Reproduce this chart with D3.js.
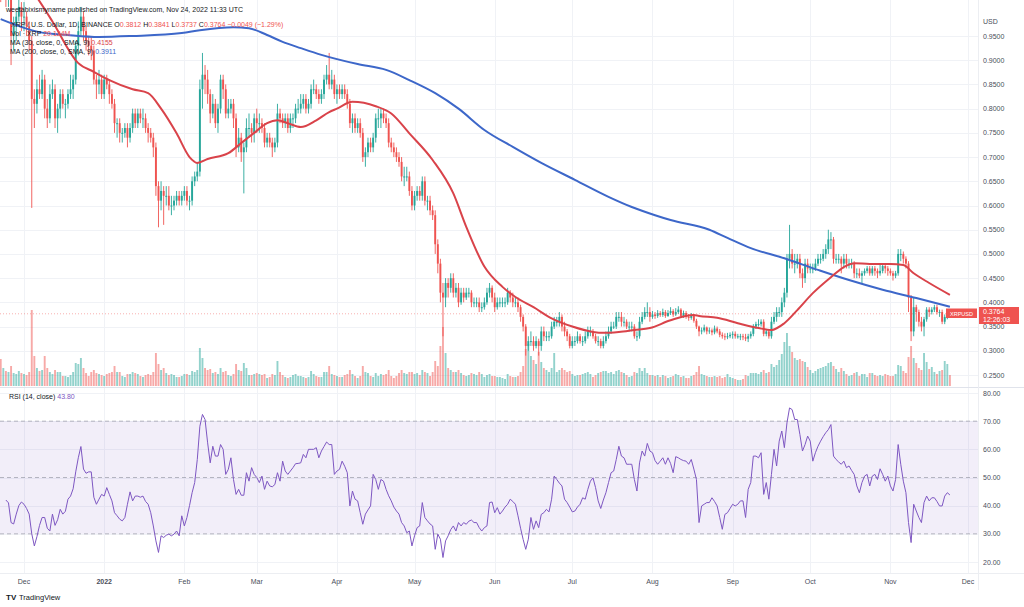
<!DOCTYPE html>
<html><head><meta charset="utf-8">
<script src="https://cdn.jsdelivr.net/npm/d3@7"></script>
<style>
html,body{margin:0;padding:0;background:#fff;}
svg{display:block;font-family:"Liberation Sans",Arial,sans-serif;}
</style></head><body>
<svg id="c" width="1024" height="607"></svg>
<script>
// ---------- DATA (daily XRP/USD candles, 2021-11-22 .. 2022-11-24) ----------
const firstOpen = 1.06;
const closeP = [
1.04,1.08,1.04,1.05,0.95,0.97,0.99,1.01,0.99,
0.99,0.97,0.94,0.82,0.81,0.84,0.83,0.86,0.80,0.78,0.83,0.84,0.78,0.80,0.83,0.81,0.81,0.83,0.84,0.86,0.93,0.96,0.99,0.96,0.94,0.93,0.92,0.86,0.85,0.86,0.83,
0.86,0.85,0.83,0.81,0.77,0.77,0.75,0.75,0.76,0.74,0.76,0.79,0.77,0.79,0.78,0.78,0.76,0.75,0.74,0.72,0.64,0.61,0.63,0.62,0.62,0.60,0.60,0.61,0.62,0.61,0.62,
0.63,0.61,0.61,0.65,0.66,0.67,0.84,0.87,0.86,0.83,0.79,0.81,0.77,0.80,0.86,0.84,0.79,0.80,0.81,0.78,0.72,0.74,0.71,0.72,0.76,0.76,0.75,0.78,
0.77,0.77,0.76,0.73,0.74,0.73,0.72,0.73,0.79,0.78,0.77,0.78,0.76,0.78,0.78,0.80,0.80,0.81,0.82,0.80,0.81,0.84,0.84,0.83,0.82,0.83,0.86,0.87,0.85,0.86,0.83,
0.84,0.83,0.84,0.83,0.81,0.77,0.78,0.76,0.77,0.75,0.70,0.71,0.73,0.72,0.74,0.78,0.78,0.79,0.78,0.77,0.73,0.72,0.71,0.70,0.69,0.66,0.66,0.66,0.63,0.60,
0.62,0.63,0.62,0.65,0.61,0.61,0.59,0.58,0.52,0.48,0.42,0.41,0.44,0.43,0.45,0.42,0.43,0.40,0.42,0.41,0.42,0.42,0.40,0.40,0.40,0.39,0.39,0.40,0.42,0.43,0.41,
0.39,0.40,0.40,0.40,0.40,0.42,0.41,0.40,0.40,0.39,0.37,0.35,0.31,0.32,0.32,0.31,0.32,0.31,0.34,0.33,0.33,0.33,0.35,0.36,0.36,0.37,0.35,0.34,0.33,0.31,
0.32,0.32,0.33,0.32,0.32,0.33,0.34,0.34,0.33,0.32,0.32,0.31,0.32,0.33,0.34,0.35,0.35,0.37,0.37,0.36,0.36,0.35,0.35,0.35,0.33,0.33,0.36,0.37,0.38,0.38,0.37,
0.375,0.372,0.378,0.374,0.38,0.372,0.378,0.382,0.375,0.38,0.385,0.372,0.378,0.37,0.368,0.372,0.362,0.35,0.34,0.342,0.348,0.34,0.342,0.338,0.346,0.34,0.333,0.33,0.328,0.33,0.333,
0.335,0.33,0.33,0.33,0.328,0.325,0.33,0.335,0.35,0.355,0.355,0.36,0.335,0.34,0.33,0.36,0.37,0.38,0.38,0.40,0.42,0.49,0.50,0.48,0.48,0.49,0.46,0.45,0.48,0.47,
0.47,0.47,0.48,0.49,0.49,0.50,0.51,0.53,0.53,0.49,0.49,0.49,0.48,0.49,0.48,0.48,0.48,0.46,0.46,0.455,0.46,0.465,0.47,0.46,0.47,0.465,0.46,0.465,0.475,0.47,0.465,
0.46,0.455,0.46,0.50,0.50,0.49,0.48,0.41,0.34,0.39,0.38,0.36,0.35,0.365,0.385,0.38,0.385,0.39,0.38,0.38,0.36,0.37,0.3812,0.3764];
const highP = [
1.09,1.11,1.09,1.07,1.06,0.99,1.00,1.04,1.02,
1.02,1.00,0.98,0.95,0.84,0.86,0.87,0.88,0.87,0.82,0.85,0.86,0.85,0.81,0.84,0.84,0.82,0.84,0.87,0.87,0.94,0.98,1.01,1.00,0.97,0.95,0.95,0.93,0.87,0.88,0.87,
0.87,0.87,0.86,0.84,0.82,0.78,0.78,0.76,0.77,0.77,0.77,0.80,0.80,0.80,0.80,0.80,0.79,0.77,0.76,0.75,0.73,0.65,0.65,0.64,0.64,0.64,0.62,0.62,0.63,0.63,0.63,
0.64,0.64,0.62,0.66,0.67,0.69,0.86,0.915,0.89,0.88,0.84,0.83,0.82,0.81,0.87,0.87,0.85,0.82,0.82,0.82,0.79,0.76,0.75,0.73,0.78,0.79,0.77,0.79,
0.80,0.79,0.78,0.77,0.75,0.75,0.74,0.74,0.81,0.80,0.79,0.79,0.79,0.79,0.79,0.81,0.82,0.83,0.83,0.83,0.82,0.85,0.86,0.85,0.84,0.84,0.87,0.89,0.915,0.88,0.87,
0.85,0.85,0.85,0.85,0.84,0.82,0.79,0.79,0.78,0.78,0.76,0.72,0.74,0.74,0.75,0.79,0.80,0.80,0.80,0.79,0.78,0.74,0.73,0.72,0.71,0.70,0.68,0.68,0.67,0.64,
0.63,0.64,0.64,0.66,0.66,0.62,0.62,0.60,0.59,0.53,0.49,0.44,0.45,0.45,0.46,0.46,0.44,0.44,0.43,0.43,0.43,0.43,0.425,0.41,0.41,0.41,0.40,0.41,0.43,0.44,0.435,
0.42,0.41,0.41,0.41,0.41,0.43,0.425,0.42,0.41,0.41,0.395,0.375,0.355,0.33,0.34,0.33,0.33,0.325,0.35,0.35,0.34,0.34,0.36,0.37,0.37,0.38,0.375,0.36,0.345,0.335,
0.33,0.33,0.34,0.335,0.33,0.34,0.35,0.35,0.345,0.335,0.33,0.325,0.33,0.34,0.35,0.36,0.36,0.38,0.38,0.38,0.37,0.365,0.36,0.36,0.355,0.34,0.37,0.38,0.39,0.40,0.39,
0.382,0.38,0.384,0.382,0.387,0.384,0.384,0.39,0.386,0.388,0.392,0.388,0.383,0.382,0.376,0.378,0.376,0.366,0.352,0.348,0.354,0.35,0.348,0.346,0.352,0.35,0.345,0.338,0.336,0.337,0.338,
0.34,0.34,0.335,0.335,0.335,0.335,0.335,0.34,0.355,0.36,0.365,0.365,0.365,0.345,0.345,0.37,0.38,0.39,0.39,0.41,0.43,0.50,0.56,0.51,0.50,0.50,0.50,0.47,0.49,0.49,
0.48,0.48,0.49,0.50,0.50,0.51,0.52,0.55,0.545,0.535,0.50,0.50,0.495,0.50,0.50,0.49,0.49,0.485,0.47,0.47,0.465,0.47,0.475,0.475,0.475,0.475,0.47,0.48,0.48,0.48,0.475,
0.47,0.465,0.465,0.51,0.51,0.505,0.495,0.485,0.415,0.41,0.395,0.385,0.37,0.37,0.39,0.39,0.39,0.395,0.395,0.385,0.385,0.375,0.385,0.3841];
const lowP = [
1.02,1.03,1.01,1.01,0.89,0.92,0.94,0.98,0.96,
0.96,0.95,0.92,0.595,0.76,0.79,0.82,0.82,0.78,0.76,0.77,0.82,0.76,0.75,0.78,0.80,0.78,0.80,0.82,0.82,0.85,0.91,0.95,0.94,0.92,0.91,0.90,0.85,0.82,0.83,0.82,
0.82,0.84,0.81,0.80,0.75,0.74,0.73,0.73,0.74,0.72,0.73,0.75,0.76,0.76,0.77,0.76,0.75,0.73,0.73,0.70,0.62,0.555,0.59,0.56,0.60,0.59,0.58,0.59,0.60,0.60,0.60,
0.61,0.60,0.59,0.60,0.64,0.65,0.66,0.80,0.83,0.81,0.77,0.78,0.76,0.75,0.79,0.82,0.78,0.78,0.79,0.76,0.70,0.71,0.69,0.625,0.71,0.74,0.73,0.73,
0.75,0.75,0.75,0.72,0.72,0.72,0.70,0.71,0.72,0.77,0.76,0.76,0.75,0.75,0.76,0.77,0.79,0.79,0.80,0.79,0.79,0.80,0.83,0.82,0.81,0.81,0.82,0.85,0.84,0.84,0.82,
0.81,0.82,0.82,0.82,0.80,0.76,0.75,0.75,0.75,0.74,0.69,0.68,0.70,0.71,0.71,0.73,0.76,0.76,0.77,0.76,0.72,0.71,0.70,0.69,0.68,0.65,0.64,0.65,0.62,0.59,
0.59,0.61,0.61,0.61,0.60,0.59,0.58,0.57,0.50,0.46,0.40,0.33,0.39,0.41,0.42,0.41,0.41,0.39,0.395,0.40,0.405,0.41,0.39,0.39,0.39,0.38,0.38,0.385,0.395,0.41,0.40,
0.38,0.385,0.39,0.39,0.39,0.395,0.40,0.39,0.39,0.38,0.36,0.34,0.29,0.30,0.31,0.30,0.305,0.29,0.30,0.32,0.32,0.32,0.325,0.345,0.35,0.35,0.34,0.33,0.32,0.305,
0.305,0.31,0.315,0.315,0.31,0.315,0.325,0.33,0.325,0.315,0.31,0.305,0.305,0.315,0.325,0.335,0.345,0.345,0.36,0.35,0.35,0.345,0.34,0.34,0.325,0.32,0.325,0.355,0.365,0.37,0.36,
0.366,0.366,0.368,0.37,0.37,0.368,0.37,0.374,0.37,0.372,0.376,0.368,0.368,0.366,0.362,0.364,0.358,0.345,0.33,0.334,0.338,0.334,0.335,0.332,0.334,0.336,0.328,0.325,0.322,0.324,0.326,
0.325,0.325,0.325,0.322,0.322,0.32,0.318,0.325,0.33,0.345,0.35,0.35,0.33,0.33,0.325,0.325,0.355,0.36,0.37,0.37,0.39,0.41,0.47,0.47,0.46,0.47,0.45,0.43,0.44,0.46,
0.46,0.46,0.465,0.475,0.48,0.485,0.49,0.50,0.51,0.48,0.48,0.48,0.46,0.47,0.47,0.47,0.47,0.45,0.45,0.45,0.44,0.455,0.46,0.455,0.455,0.455,0.45,0.455,0.46,0.46,0.455,
0.455,0.445,0.45,0.455,0.485,0.48,0.47,0.38,0.32,0.33,0.36,0.35,0.34,0.33,0.36,0.37,0.375,0.38,0.375,0.37,0.355,0.355,0.365,0.3737];
const volumeM = [
1350,900,750,700,1000,650,600,750,650,
600,550,700,3800,1500,900,750,800,1500,900,700,600,800,700,700,500,500,450,550,700,1150,1100,1400,900,650,500,700,800,650,600,550,
500,600,650,700,1000,700,700,500,450,600,600,700,650,600,500,450,550,600,550,700,1650,1100,800,900,650,550,600,550,450,450,500,
600,600,550,750,700,800,1900,1400,900,800,850,650,700,600,900,700,750,550,500,600,1100,800,750,1150,900,550,550,600,
650,600,550,600,400,450,600,550,1250,700,550,450,400,450,550,600,500,500,450,400,450,750,600,500,450,450,700,700,1000,600,550,
500,450,450,550,600,800,600,500,400,500,1000,700,650,500,450,650,500,600,550,600,800,500,400,500,650,800,650,600,700,700,
600,650,550,800,700,650,500,700,1250,1000,2000,2950,1650,900,800,700,700,800,650,550,500,550,650,600,550,700,600,450,550,600,500,
500,450,450,400,350,600,500,450,450,500,700,1000,1850,2100,1500,1300,1100,1700,1200,900,800,700,900,1650,700,800,900,800,700,750,
600,500,550,550,600,650,700,600,450,550,650,700,750,750,650,700,600,750,800,700,650,550,450,500,700,650,900,750,900,650,550,
550,500,550,450,550,500,400,450,500,600,550,450,500,400,400,500,550,700,1000,600,550,500,450,450,500,450,500,400,450,600,450,
400,350,300,300,350,550,500,650,650,650,600,700,800,650,700,1100,950,1050,1300,1600,2200,2650,2000,1700,1400,1300,1350,1250,1200,950,
800,650,750,850,900,950,1000,1150,1200,1000,850,700,900,750,600,500,550,650,700,500,600,600,450,650,650,550,500,550,500,600,550,
500,500,600,1050,1000,750,650,1450,2000,1400,1150,900,800,1650,1200,850,950,700,600,750,800,1250,1100,550];
const rsiVals = [
null,null,42,41,34,33.5,37,40,41.3,40.5,
39,37,30,25.7,29,33,35.8,35.8,32,31,
37,33,35,38.7,37,38,42.3,43.4,46,52,
57,61,53,51.5,52,52,43,40.5,42.3,44,
43.4,46.4,44,41.7,37.5,36.4,35.2,34.6,35.8,40.5,
44.9,41.7,43.4,43.4,43,43.4,41.5,40.5,37.5,32.8,
27.5,23.4,29.3,28.7,29.5,29.9,29.3,29.9,31,29.3,
36.4,32.8,35.8,40,44.6,48.2,56.4,68.2,72.4,70.6,
62.3,55.2,61.1,57.6,57.6,61.7,60,51.1,52.9,57,
49.3,44,45.8,43.7,43.7,51.7,48.7,53.5,51.1,50,
48.2,50.5,45.8,48.7,47,46.7,47.5,51.7,48.7,55.8,
52.3,51.1,52.3,53.5,54.9,55,55.2,58.2,57,60,
60,60,60.6,57,59.4,61,62.6,61.7,61.7,51.1,
52.3,52.9,55.8,54,51.7,39.9,45.2,42.3,41.7,37.5,
33.4,37,38.5,39.9,51.1,49.3,45.8,49.3,48.7,45.8,
43.5,41.7,39.5,38.1,37,34,32.8,30.4,31,25.7,
29.3,32.2,32.8,41.1,35.8,34.6,33.5,32.8,24.5,29.9,
28.1,21.6,27.5,29.3,31.5,32.8,31,34,32.8,34,
33.4,34.5,34.9,34,34,32.2,31,32.2,32.8,41.1,
41.3,37.5,39.3,37,38.1,39.5,40.5,42.3,41.5,40.5,
36.4,32,28,24.5,28.1,35.8,31.6,34.6,32.2,36.9,
37.5,38.7,37.8,42.3,50.5,49.3,48,47,42.3,41.1,
39.5,37.8,38.1,39.5,40.5,42.8,42.3,45.8,48.7,49.9,
46.4,41.7,39,42,44.6,48.2,51.7,52.3,56.4,61.1,
57.6,57,54.7,54.7,54.7,49.3,45.2,55.2,59.4,57.6,
62.1,59.4,58.8,56,54.7,55.8,57,54.7,57,55,
51.7,57.4,57,56.4,56,55.8,54.7,56.4,53,49.3,
34,39.9,40.5,41.1,41.1,42.8,41.5,39.9,35.8,31.6,
36.9,37.5,39,40.5,39.9,40.5,41.7,41.7,35.8,45.8,
48.2,57.6,57.6,57,58.8,44,48.2,42.3,51.1,60,
54.1,62.9,66.5,60.6,69.4,74.7,74.1,70.6,70.6,65.3,
59.4,61.7,64.7,62.9,55.8,58.8,61.1,62.9,64.5,65.9,
67,68.8,57.6,56.4,55.5,54.7,55.8,53.5,54.1,52.5,
51.1,47,44.6,48.2,50.5,51.1,47,50.5,51.1,49.3,
53.1,51.1,48.7,50.5,47,45.2,49.3,61.7,54.7,48.7,
44.6,34,26.9,40.5,38.1,35.8,34,41.1,43.4,41.7,
42.8,42.8,41.5,39.9,39.9,43.4,44.6,43.8];
// moving averages, read at points along the lines (day index from 2021-11-22)
const ma30Days = [0,10,18,20,30,36,42,51,57,62,68,73,76,80,88,93,98,103,107,111,116,122,127,130,136,145,151,158,167,175,180,187,194,199,206,213,221,229,233,239,245,251,259,268,270,277,285,293,298,303,308,314,321,326,330,336,344,349,353,359,367];
const ma30Vals = [1.12,1.06,0.997,0.98,0.894,0.876,0.859,0.84,0.832,0.80,0.749,0.70,0.688,0.696,0.708,0.729,0.75,0.77,0.776,0.77,0.762,0.776,0.793,0.80,0.814,0.805,0.79,0.749,0.694,0.625,0.556,0.474,0.432,0.411,0.39,0.367,0.35,0.339,0.337,0.339,0.343,0.347,0.363,0.374,0.372,0.368,0.357,0.347,0.343,0.357,0.384,0.419,0.452,0.473,0.481,0.479,0.479,0.477,0.46,0.44,0.4155];
const ma200Days = [0,15,26,38,51,70,77,90,96,103,109,116,124,138,149,158,168,177,187,198,209,222,235,244,253,259,274,281,290,303,316,328,341,354,367];
const ma200Vals = [0.985,0.958,0.952,0.948,0.95,0.956,0.962,0.968,0.966,0.952,0.938,0.925,0.911,0.892,0.88,0.859,0.832,0.80,0.756,0.721,0.688,0.653,0.618,0.597,0.58,0.57,0.55,0.533,0.512,0.491,0.467,0.446,0.426,0.409,0.3911];
const priceTicks = [0.25,0.30,0.35,0.40,0.45,0.50,0.55,0.60,0.65,0.70,0.75,0.80,0.85,0.90,0.95];
const rsiTicks = [20,30,40,50,60,70,80];
const rsiBands = [30,50,70];
const monthDates = ["2021-12-01","2022-01-01","2022-02-01","2022-03-01","2022-04-01","2022-05-01","2022-06-01","2022-07-01","2022-08-01","2022-09-01","2022-10-01","2022-11-01","2022-12-01"];
const monthLabels = ["Dec","2022","Feb","Mar","Apr","May","Jun","Jul","Aug","Sep","Oct","Nov","Dec"];
const lastPrice = 0.3764;

// ---------- CHART ----------
const svg = d3.select("#c");
const plotR = 978;
const DAY = 864e5, t0 = Date.UTC(2021,10,22);
const x = d3.scaleUtc().domain([Date.UTC(2021,11,1), Date.UTC(2022,11,1)]).range([24,968]);
const yP = d3.scaleLinear().domain([0.25,0.95]).range([375,36]);
const yV = d3.scaleLinear().domain([0,3800]).range([386,310]);
const yR = d3.scaleLinear().domain([20,80]).range([562,393]);
const dayX = d => x(new Date(t0 + d*DAY));
const UP="#26a69a", DN="#ef5350";

const data = closeP.map((c,i)=>({i, t:new Date(t0+i*DAY), o: i?closeP[i-1]:firstOpen, c, h:highP[i], l:lowP[i], v:volumeM[i], r:rsiVals[i]}));

const defs = svg.append("defs");
defs.append("clipPath").attr("id","cp").append("rect").attr("x",0).attr("y",0).attr("width",plotR).attr("height",386);
defs.append("clipPath").attr("id","cr").append("rect").attr("x",0).attr("y",388).attr("width",plotR).attr("height",185);

// grid
const grid = svg.append("g").attr("stroke","#f0f2f6").attr("stroke-width",1);
monthDates.forEach(s=>{ const xx=Math.round(x(new Date(s+"T00:00:00Z")))+0.5;
  grid.append("line").attr("x1",xx).attr("x2",xx).attr("y1",0).attr("y2",573); });
priceTicks.forEach(p=>{ const yy=Math.round(yP(p))+0.5;
  grid.append("line").attr("x1",0).attr("x2",plotR).attr("y1",yy).attr("y2",yy); });
rsiTicks.forEach(r=>{ const yy=Math.round(yR(r))+0.5;
  grid.append("line").attr("x1",0).attr("x2",plotR).attr("y1",yy).attr("y2",yy); });

// price pane
const pp = svg.append("g").attr("clip-path","url(#cp)");
pp.selectAll("rect.vol").data(data).enter().append("rect").attr("class","vol")
  .attr("x",d=>x(d.t)-0.95).attr("width",1.9)
  .attr("y",d=>yV(d.v)).attr("height",d=>yV(0)-yV(d.v))
  .attr("fill",d=>d.c>=d.o?UP:DN).attr("fill-opacity",0.5);

pp.selectAll("line.wick").data(data).enter().append("line")
  .attr("x1",d=>x(d.t)).attr("x2",d=>x(d.t))
  .attr("y1",d=>yP(Math.max(d.h,d.o,d.c))).attr("y2",d=>yP(Math.min(d.l,d.o,d.c)))
  .attr("stroke",d=>d.c>=d.o?UP:DN).attr("stroke-width",0.9);
pp.selectAll("rect.body").data(data).enter().append("rect")
  .attr("x",d=>x(d.t)-0.95).attr("width",1.9)
  .attr("y",d=>yP(Math.max(d.o,d.c)))
  .attr("height",d=>Math.max(1,Math.abs(yP(d.o)-yP(d.c))))
  .attr("fill",d=>d.c>=d.o?UP:DN);

// last price line
pp.append("line").attr("x1",0).attr("x2",plotR).attr("y1",yP(lastPrice)).attr("y2",yP(lastPrice))
  .attr("stroke","#ef5350").attr("stroke-opacity",0.45).attr("stroke-dasharray","1,2");

const maLine = d3.line().x(d=>dayX(d[0])).y(d=>yP(d[1])).curve(d3.curveMonotoneX);
pp.append("path").attr("d",maLine(ma200Days.map((d,i)=>[d,ma200Vals[i]])))
  .attr("fill","none").attr("stroke","#3d67c9").attr("stroke-width",2);
pp.append("path").attr("d",maLine(ma30Days.map((d,i)=>[d,ma30Vals[i]])))
  .attr("fill","none").attr("stroke","#d9434a").attr("stroke-width",2);

// separators
svg.append("line").attr("x1",0).attr("x2",1024).attr("y1",387.5).attr("y2",387.5).attr("stroke","#e0e3eb");
svg.append("line").attr("x1",0).attr("x2",1024).attr("y1",573.5).attr("y2",573.5).attr("stroke","#eceef2");
svg.append("line").attr("x1",plotR+0.5).attr("x2",plotR+0.5).attr("y1",0).attr("y2",590).attr("stroke","#eceef2");

// RSI pane
const rp = svg.append("g").attr("clip-path","url(#cr)");
rp.append("rect").attr("x",0).attr("width",plotR).attr("y",yR(70)).attr("height",yR(30)-yR(70)).attr("fill","#7e57c2").attr("fill-opacity",0.1);
rsiBands.forEach(b=>{
  rp.append("line").attr("x1",0).attr("x2",plotR).attr("y1",yR(b)).attr("y2",yR(b))
    .attr("stroke","#8a8d99").attr("stroke-opacity",0.75).attr("stroke-dasharray","4,3").attr("stroke-width",0.8);
});
const rsiLine = d3.line().defined(d=>d.r!=null).x(d=>x(d.t)).y(d=>yR(d.r));
rp.append("path").attr("d",rsiLine(data)).attr("fill","none").attr("stroke","#7e57c2").attr("stroke-width",1);

// axes text
const fs = 7, txtC = "#4a4e5a";
svg.append("text").attr("x",983).attr("y",24).attr("font-size",fs).attr("fill",txtC).text("USD");
priceTicks.forEach(p=>{
  svg.append("text").attr("x",983).attr("y",yP(p)+2.5).attr("font-size",fs).attr("fill",txtC).text(d3.format(".4f")(p));
});
rsiTicks.forEach(r=>{
  svg.append("text").attr("x",983).attr("y",yR(r)+2.5).attr("font-size",fs).attr("fill",txtC).text(d3.format(".2f")(r));
});
monthDates.forEach((s,i)=>{
  svg.append("text").attr("x",x(new Date(s+"T00:00:00Z"))).attr("y",583.5).attr("text-anchor","middle")
    .attr("font-size",fs).attr("fill",txtC).attr("font-weight",monthLabels[i]==="2022"?"bold":"normal").text(monthLabels[i]);
});

// price tags
svg.append("rect").attr("x",946).attr("y",308.5).attr("width",31).attr("height",9.5).attr("fill","#ef5350");
svg.append("text").attr("x",961.5).attr("y",315.5).attr("text-anchor","middle").attr("font-size",5.5).attr("fill","#fff").text("XRPUSD");
svg.append("rect").attr("x",979).attr("y",307).attr("width",40).attr("height",17).attr("fill","#ef5350");
svg.append("text").attr("x",983).attr("y",314).attr("font-size",fs).attr("fill","#fff").text(d3.format(".4f")(lastPrice));
svg.append("text").attr("x",983).attr("y",322).attr("font-size",fs).attr("fill","#fff").text("12:26:03");

// legends
const leg = svg.append("g").attr("font-size",fs).attr("fill","#131722");
leg.append("text").attr("x",6).attr("y",12).text("weetabixismyname published on TradingView.com, Nov 24, 2022 11:33 UTC");
const l2 = leg.append("text").attr("x",11).attr("y",26.5);
l2.append("tspan").text("XRP / U.S. Dollar, 1D, BINANCE  O");
l2.append("tspan").attr("fill",DN).text("0.3812");
l2.append("tspan").text(" H");
l2.append("tspan").attr("fill",DN).text("0.3841");
l2.append("tspan").text(" L");
l2.append("tspan").attr("fill",DN).text("0.3737");
l2.append("tspan").text(" C");
l2.append("tspan").attr("fill",DN).text("0.3764  −0.0049 (−1.29%)");
const l3 = leg.append("text").attr("x",11).attr("y",35.5);
l3.append("tspan").text("Vol · XRP  ");
l3.append("tspan").attr("fill",DN).text("20.124M");
const l4 = leg.append("text").attr("x",10).attr("y",44.5);
l4.append("tspan").text("MA (30, close, 0, SMA, 9)  ");
l4.append("tspan").attr("fill","#d9434a").text("0.4155");
const l5 = leg.append("text").attr("x",10).attr("y",53.5);
l5.append("tspan").text("MA (200, close, 0, SMA, 9)  ");
l5.append("tspan").attr("fill","#3d67c9").text("0.3911");

const l6 = leg.append("text").attr("x",9).attr("y",399);
l6.append("tspan").text("RSI (14, close)  ");
l6.append("tspan").attr("fill","#7e57c2").text("43.80");

// footer logo
svg.append("text").attr("x",6).attr("y",600).attr("font-size",8).attr("font-weight","bold").attr("fill","#131722").text("TV");
svg.append("text").attr("x",19).attr("y",600).attr("font-size",7.5).attr("fill","#131722").text("TradingView");
</script>
</body></html>
